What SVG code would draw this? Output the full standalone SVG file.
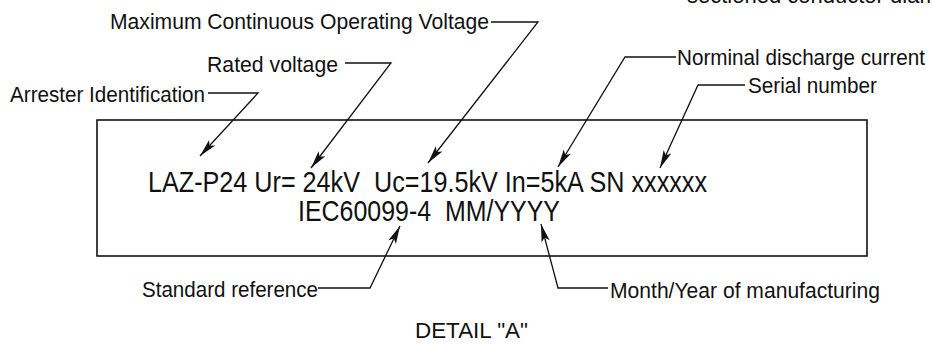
<svg xmlns="http://www.w3.org/2000/svg" width="932" height="344" viewBox="0 0 932 344">
<style>
.lbl{font-family:"Liberation Sans",Arial,sans-serif;font-size:22px;fill:#111}
.main{font-family:"Liberation Sans",Arial,sans-serif;font-size:30px;fill:#111;white-space:pre}
.ldr{fill:none;stroke:#111;stroke-width:1.3}
.box{fill:none;stroke:#111;stroke-width:1.6}
</style>
<defs>
<marker id="ah" markerUnits="userSpaceOnUse" markerWidth="22" markerHeight="12" viewBox="-20 -6 22 12" refX="0" refY="0" orient="auto">
<path d="M0,0 L-18,-4.2 L-14,0 L-18,4.2 Z" fill="#111"/>
</marker>
</defs>
<rect width="932" height="344" fill="#fff"/>
<g id="plate">
<rect class="box" x="97" y="120" width="770" height="136"/>
<text class="main" x="148" y="192" textLength="559" lengthAdjust="spacingAndGlyphs" xml:space="preserve">LAZ-P24 Ur= 24kV  Uc=19.5kV In=5kA SN xxxxxx</text>
<text class="main" x="298" y="221" textLength="262" lengthAdjust="spacingAndGlyphs" xml:space="preserve">IEC60099-4  MM/YYYY</text>
</g>
<g id="label-mcov"><text class="lbl" x="110" y="29" textLength="379" lengthAdjust="spacingAndGlyphs">Maximum Continuous Operating Voltage</text></g>
<g id="label-rated"><text class="lbl" x="207" y="72" textLength="131" lengthAdjust="spacingAndGlyphs">Rated voltage</text></g>
<g id="label-id"><text class="lbl" x="10" y="102" textLength="195" lengthAdjust="spacingAndGlyphs">Arrester Identification</text></g>
<g id="label-in"><text class="lbl" x="677" y="65" textLength="248" lengthAdjust="spacingAndGlyphs">Norminal discharge current</text></g>
<g id="label-sn"><text class="lbl" x="748" y="93" textLength="129" lengthAdjust="spacingAndGlyphs">Serial number</text></g>
<g id="label-std"><text class="lbl" x="142" y="297" textLength="176" lengthAdjust="spacingAndGlyphs">Standard reference</text></g>
<g id="label-date"><text class="lbl" x="610" y="298" textLength="270" lengthAdjust="spacingAndGlyphs">Month/Year of manufacturing</text></g>
<g id="label-detail"><text class="lbl" x="415" y="338" textLength="113" lengthAdjust="spacingAndGlyphs">DETAIL "A"</text></g>
<g id="label-cut"><text class="lbl" x="687" y="3">sectioned conductor diameter</text></g>
<g id="connectors">
<polyline class="ldr" points="491,22 538,22 428,163" marker-end="url(#ah)"/>
<polyline class="ldr" points="345,63 391,63 311,168" marker-end="url(#ah)"/>
<polyline class="ldr" points="208,93 258,93 200,156" marker-end="url(#ah)"/>
<polyline class="ldr" points="676,57 625,57 558,167" marker-end="url(#ah)"/>
<polyline class="ldr" points="745,85 698,85 660,168" marker-end="url(#ah)"/>
<polyline class="ldr" points="318,288 370,288 400,226" marker-end="url(#ah)"/>
<polyline class="ldr" points="608,288 558,288 541,224" marker-end="url(#ah)"/>
</g>
</svg>
